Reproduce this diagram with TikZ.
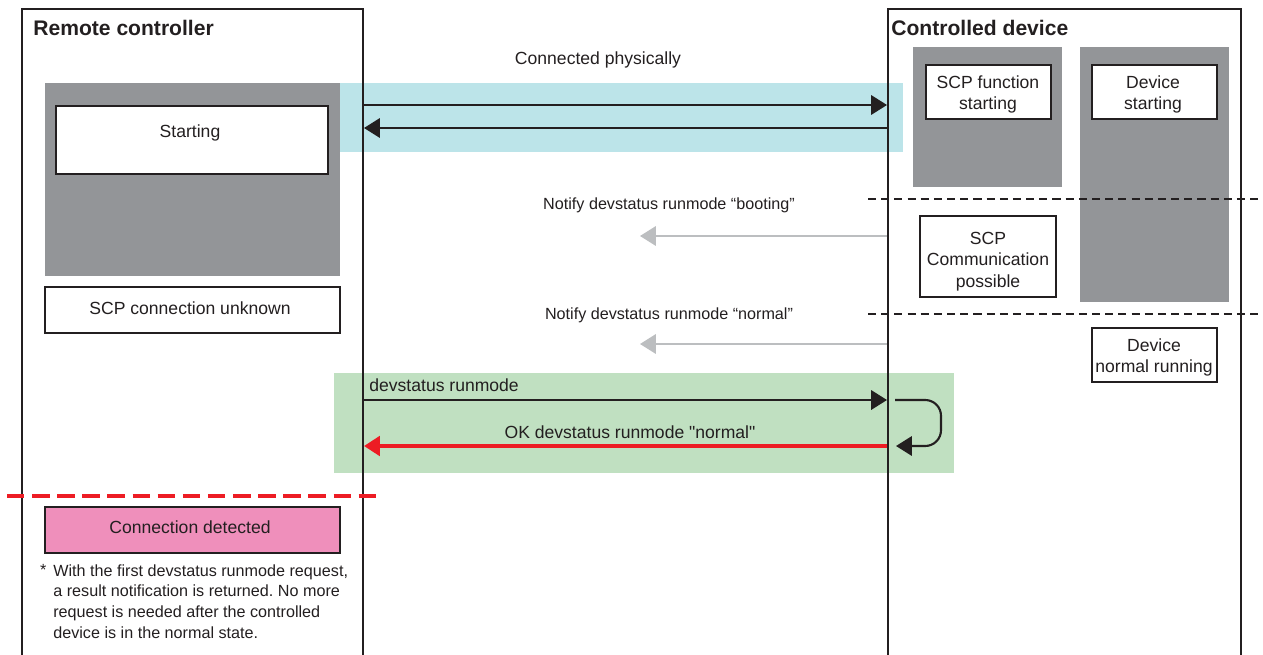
\documentclass[tikz,border=0pt]{standalone}
\usepackage{fontspec}
\setmainfont{Liberation Sans}[Ligatures=TeXOff]
\usetikzlibrary{arrows.meta,positioning,fit}

\definecolor{stategray}{RGB}{147,149,152}
\definecolor{bandcyan}{RGB}{188,228,233}
\definecolor{bandgreen}{RGB}{192,224,193}
\definecolor{detectpink}{RGB}{239,143,187}
\definecolor{msgred}{RGB}{237,28,36}
\definecolor{msggray}{RGB}{188,190,192}
\definecolor{inkblack}{RGB}{35,31,32}

\begin{document}
\frenchspacing
\begin{tikzpicture}[x=0.02cm, y=-0.02cm,
	txt/.style={font=\fontsize{10}{12.2}\selectfont, text=inkblack},
	smalltxt/.style={font=\fontsize{9.2}{11.9}\selectfont, text=inkblack},
	titletxt/.style={font=\bfseries\fontsize{12}{14}\selectfont, text=inkblack, anchor=west, inner sep=0pt},
	band/.style={inner sep=0pt, outer sep=0pt},
	grayblock/.style={fill=stategray, inner sep=0pt, outer sep=0pt},
	statebox/.style={draw=inkblack, fill=white, line width=0.7pt, inner sep=0pt},
	boxtxt/.style={txt, align=center, inner sep=0pt},
	frame/.style={draw=inkblack, line width=1.1pt, inner sep=0pt},
	phase/.style={draw=inkblack, line width=1.4pt, dash pattern=on 4.6pt off 2.9pt},
	msg/.style={draw=inkblack, line width=1.2pt, -{Triangle[length=9pt,width=11pt]}},
	notify/.style={draw=msggray, line width=1.2pt, -{Triangle[length=9pt,width=11pt]}},
	reply/.style={draw=msgred, line width=2.2pt, -{Triangle[length=9pt,width=11pt]}}]

	\clip (0,0) rectangle (1263,655);

	% Hintergrundbaender
	\node[band, fill=bandcyan, fit={(340,83) (903,152)}] (physband) {};
	\node[band, fill=bandgreen, fit={(334,373) (954,473)}] (reqband) {};

	% Zustaende Remote controller
	\node[grayblock, fit={(45,83) (340,276)}] (rcgray) {};
	\node[statebox, fit={(56,106) (328,174)}] (starting) {};
	\node[boxtxt] (startingtxt) at (190,133) {Starting};
	\node[statebox, fit={(45,287) (340,333)}] (unknown) {};
	\node[boxtxt] (unknowntxt) at (190,308) {SCP connection unknown};
	\node[statebox, fill=detectpink, fit={(45,507) (340,553)}] (detected) {};
	\node[boxtxt] (detectedtxt) at (190,527) {Connection detected};

	% Zustaende Controlled device
	\node[grayblock, fit={(913,47) (1062,187)}] (scpgray) {};
	\node[grayblock, fit={(1080,47) (1229,302)}] (devgray) {};
	\node[statebox, fit={(926,65) (1051,119)}] (scpstart) {};
	\node[boxtxt] (scpstarttxt) at (988,94.5) {SCP function\\starting};
	\node[statebox, fit={(1092,65) (1217,119)}] (devstart) {};
	\node[boxtxt] (devstarttxt) at (1153,94.5) {Device\\starting};
	\node[statebox, fit={(920,216) (1056,297)}] (scpcomm) {};
	\node[boxtxt] (scpcommtxt) at (988,261.5) {SCP\\Communication\\possible};
	\node[statebox, fit={(1092,328) (1217,382)}] (devnormal) {};
	\node[boxtxt] (devnormaltxt) at (1154,357.5) {Device\\normal running};

	% Rahmen
	\node[frame, fit={(22,9) (363,700)}] (rc) {};
	\node[frame, fit={(888,9) (1241,700)}] (cd) {};
	\node[titletxt] (rctitle) at (33,28) {Remote controller};
	\node[titletxt] (cdtitle) at (891,28) {Controlled device};

	% Phasengrenzen
	\coordinate (bootL) at (868,199);
	\coordinate (bootR) at (1275,199);
	\coordinate (normL) at (868,314);
	\coordinate (normR) at (1275,314);
	\draw[phase] (bootL) -- (bootR);
	\draw[phase] (normL) -- (normR);
	\coordinate (detL) at (7,496);
	\coordinate (detR) at (378,496);
	\draw[draw=msgred, line width=2pt, dash pattern=on 9.9pt off 4.4pt] (detL) -- (detR);

	% Nachrichten
	\coordinate (rcA) at (364,105);
	\coordinate (cdA) at (887,105);
	\coordinate (rcB) at (364,128);
	\coordinate (cdB) at (887,128);
	\draw[msg] (rcA) -- (cdA);
	\draw[msg] (cdB) -- (rcB);
	\node[txt] (lblphys) at (598,60) {Connected physically};

	\coordinate (cdC) at (887,236);
	\coordinate (endC) at (640,236);
	\draw[notify] (cdC) -- (endC);
	\node[smalltxt] (lblboot) at (669,205) {Notify devstatus runmode “booting”};

	\coordinate (cdD) at (887,344);
	\coordinate (endD) at (640,344);
	\draw[notify] (cdD) -- (endD);
	\node[smalltxt] (lblnorm) at (669,315) {Notify devstatus runmode “normal”};

	\coordinate (rcE) at (364,400);
	\coordinate (cdE) at (887,400);
	\draw[msg] (rcE) -- (cdE);
	\node[txt, anchor=west, inner sep=0pt] (lblreq) at (369,385) {devstatus runmode};

	\coordinate (loopA) at (895,400);
	\coordinate (loopB) at (896,446);
	\draw[msg, rounded corners=9] (loopA) -- (941,400) -- (941,446) -- (loopB);

	\coordinate (cdF) at (887,446);
	\coordinate (rcF) at (364,446);
	\draw[reply] (cdF) -- (rcF);
	\node[txt] (lblok) at (630,432) {OK devstatus runmode "normal"};

	% Fussnote
	\node[smalltxt, anchor=north west, align=left, inner sep=0pt] (fnote) at (53,564)
		{With the first devstatus runmode request,\\a result notification is returned. No more\\request is needed after the controlled\\device is in the normal state.};
	\node[smalltxt, anchor=north east, inner sep=0pt] (fstar) at ([xshift=-3.5pt]fnote.north west) {*};
\end{tikzpicture}
\end{document}
